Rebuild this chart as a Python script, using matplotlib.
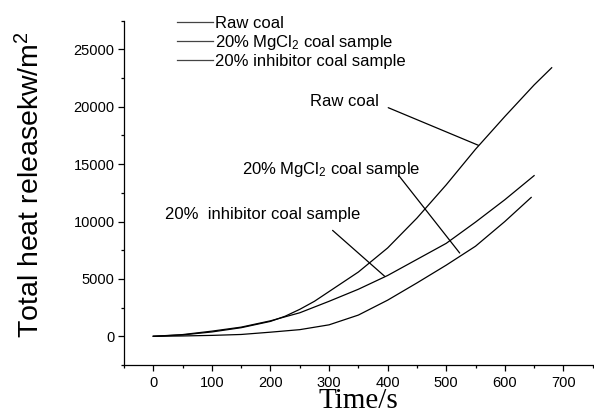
import matplotlib
matplotlib.use("Agg")
import matplotlib.pyplot as plt
from matplotlib.ticker import MultipleLocator

plt.rcParams['font.family'] = ['Liberation Sans', 'DejaVu Sans']
plt.rcParams['mathtext.fontset'] = 'custom'
plt.rcParams['mathtext.rm'] = 'Liberation Sans'
plt.rcParams['mathtext.it'] = 'Liberation Sans:italic'
plt.rcParams['mathtext.bf'] = 'Liberation Sans:bold'
plt.rcParams['mathtext.default'] = 'rm'

# ---- data ----
time_raw = [0, 50, 100, 150, 200, 225, 250, 275, 300, 350, 400, 450, 500, 550, 600, 650, 680]
heat_raw = [0, 120, 380, 750, 1300, 1750, 2350, 3050, 3900, 5600, 7700, 10300, 13200, 16300, 19150, 21900, 23400]

time_mgcl2 = [0, 50, 100, 150, 200, 250, 300, 350, 400, 450, 500, 550, 600, 645]
heat_mgcl2 = [0, 30, 80, 160, 360, 580, 1000, 1850, 3150, 4650, 6200, 7850, 10000, 12100]

time_inhib = [0, 50, 100, 150, 200, 250, 300, 350, 400, 450, 500, 550, 600, 650]
heat_inhib = [0, 150, 450, 800, 1350, 2050, 3050, 4100, 5300, 6700, 8100, 9950, 11900, 14000]

legend_labels = ["Raw coal", "20% MgCl$_2$ coal sample", "20% inhibitor coal sample"]
x_label = "Time/s"
y_label = "Total heat releasekw/m$^2$"

fig = plt.figure(figsize=(5.94, 4.17), dpi=100)
ax = fig.add_axes([0.2088, 0.1247, 0.789, 0.8257])

lw = 0.9
l1, = ax.plot(time_raw, heat_raw, color='black', lw=lw)
l2, = ax.plot(time_mgcl2, heat_mgcl2, color='black', lw=lw)
l3, = ax.plot(time_inhib, heat_inhib, color='black', lw=lw)

ax.set_xlim(-50, 750)
ax.set_ylim(-2500, 27500)
ax.xaxis.set_major_locator(MultipleLocator(100))
ax.xaxis.set_minor_locator(MultipleLocator(50))
ax.yaxis.set_major_locator(MultipleLocator(5000))
ax.yaxis.set_minor_locator(MultipleLocator(2500))

for s in ['top', 'right']:
    ax.spines[s].set_visible(False)
for s in ['left', 'bottom']:
    ax.spines[s].set_linewidth(0.9)

ax.tick_params(which='major', direction='out', length=4.2, width=0.9, labelsize=10.5)
ax.tick_params(which='minor', direction='out', length=2.5, width=0.9)
ax.tick_params(axis='x', which='major', pad=3.5)
ax.tick_params(axis='y', which='major', pad=2.5)

ax.set_xlabel(x_label, fontsize=21, family=['Liberation Serif', 'DejaVu Serif'], labelpad=-1.0)
ax.set_ylabel(y_label, fontsize=20.5)
ax.yaxis.set_label_coords(-0.168, 0.524)

leg = fig.legend([l1, l2, l3], legend_labels, loc='upper left',
                 bbox_to_anchor=(0.2975, 0.962), frameon=False, fontsize=12,
                 handlelength=2.2, handletextpad=0.1, labelspacing=0.12,
                 borderpad=0, borderaxespad=0)
for h in leg.legend_handles:
    h.set_color('#444444')
    h.set_linewidth(0.9)

# annotations: labels and leader lines
ax.text(267, 20030, "Raw coal", fontsize=12, ha='left', va='baseline')
ax.text(151, 14170, "20% MgCl$_2$ coal sample", fontsize=12, ha='left', va='baseline')
ax.text(20, 10250, "20%  inhibitor coal sample", fontsize=12, ha='left', va='baseline')

lead = dict(arrowstyle='-', lw=0.9, color='black', shrinkA=0, shrinkB=0)
ax.annotate('', xy=(555, 16640), xytext=(401, 19920), arrowprops=lead)
ax.annotate('', xy=(523, 7255), xytext=(420, 13940), arrowprops=lead)
ax.annotate('', xy=(395, 5226), xytext=(306, 9230), arrowprops=lead)

fig.savefig("out.png", dpi=100)
